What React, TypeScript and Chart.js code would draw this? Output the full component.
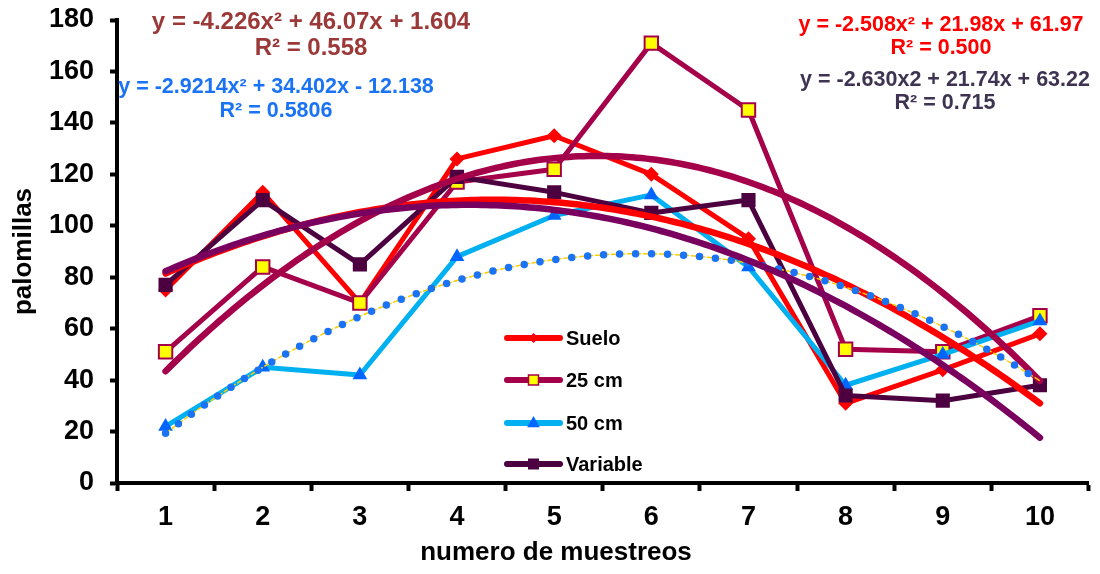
import React, { useEffect, useRef } from 'react';
import { Chart, registerables } from 'chart.js';

Chart.register(...registerables);

// ---- data ----
const categories = [1, 2, 3, 4, 5, 6, 7, 8, 9, 10];
const yTicks = [0, 20, 40, 60, 80, 100, 120, 140, 160, 180];
const suelo = [75, 113, 70, 126, 135, 120, 95, 31, 44, 58];
const cm25 = [51, 84, 70, 117, 122, 171, 145, 52, 51, 65];
const cm50 = [22, 45, 42, 88, 104, 112, 84, 38, 50, 63];
const variable = [77, 110, 85, 119, 113, 105, 110, 34, 32, 38];

// polynomial trendline coefficients [a, b, c] (a·x² + b·x + c) as printed on the chart
const sueloTrendCoef = [-2.508, 21.98, 61.97];
const cm25TrendCoef = [-4.226, 46.07, 1.604];
const cm50TrendCoef = [-2.9214, 34.402, -12.138];
const variableTrendCoef = [-2.63, 21.74, 63.22];

const sueloEquation = ['y = -2.508x² + 21.98x + 61.97', 'R² = 0.500'];
const cm25Equation = ['y = -4.226x² + 46.07x + 1.604', 'R² = 0.558'];
const cm50Equation = ['y = -2.9214x² + 34.402x - 12.138', 'R² = 0.5806'];
const variableEquation = ['y = -2.630x2 + 21.74x + 63.22', 'R² = 0.715'];

const seriesNames = ['Suelo', '25 cm', '50 cm', 'Variable'];

const FONT = '"Liberation Sans", Arial, Helvetica, sans-serif';

const C_SUELO = '#FF0000';
const C_25 = '#A5004A';
const C_50 = '#00B0F0';
const C_50_MARK = '#0066FF';
const C_VAR = '#4D0040';
const C_VAR_TREND = '#7A0060';

function toPoints(values: number[]) {
  return categories.map((c, i) => ({ x: c, y: values[i] }));
}

function trendPoints(coef: number[]) {
  const pts: { x: number; y: number }[] = [];
  const x0 = categories[0];
  const x1 = categories[categories.length - 1];
  const steps = 180;
  for (let i = 0; i <= steps; i++) {
    const x = x0 + ((x1 - x0) * i) / steps;
    pts.push({ x, y: coef[0] * x * x + coef[1] * x + coef[2] });
  }
  return pts;
}

const xTickValues = [categories[0] - 0.5, ...categories.flatMap((c) => [c, c + 0.5])];

function drawMarker(ctx: CanvasRenderingContext2D, kind: string, x: number, y: number, r: number, fill: string, stroke: string, bw: number) {
  ctx.save();
  ctx.beginPath();
  if (kind === 'diamond') {
    ctx.moveTo(x, y - r);
    ctx.lineTo(x + r, y);
    ctx.lineTo(x, y + r);
    ctx.lineTo(x - r, y);
    ctx.closePath();
  } else if (kind === 'triangle') {
    ctx.moveTo(x, y - r);
    ctx.lineTo(x + r * 0.9, y + r * 0.6);
    ctx.lineTo(x - r * 0.9, y + r * 0.6);
    ctx.closePath();
  } else {
    ctx.rect(x - r, y - r, 2 * r, 2 * r);
  }
  ctx.fillStyle = fill;
  ctx.fill();
  if (bw > 0) {
    ctx.lineWidth = bw;
    ctx.strokeStyle = stroke;
    ctx.stroke();
  }
  ctx.restore();
}

const overlayPlugin = {
  id: 'overlay',
  afterDatasetsDraw(chart: any) {
    const ctx: CanvasRenderingContext2D = chart.ctx;
    ctx.save();
    // trendline equations
    const eqs: [string[], string, number, number, number, number][] = [
      [cm25Equation, '#9B3838', 311, 22, 48, 24],
      [cm50Equation, '#1A73F5', 276, 87, 111, 21.5],
      [sueloEquation, '#FF0000', 941, 25, 48, 21.5],
      [variableEquation, '#3E3452', 945, 80, 103, 21.5],
    ];
    ctx.textAlign = 'center';
    ctx.textBaseline = 'middle';
    for (const [lines, color, cx, y1, y2, size] of eqs) {
      ctx.font = `bold ${size}px ${FONT}`;
      ctx.fillStyle = color;
      ctx.fillText(lines[0], cx, y1);
      ctx.fillText(lines[1], cx, y2);
    }

    // legend
    const legend = [
      { name: seriesNames[0], line: C_SUELO, kind: 'diamond', fill: C_SUELO, stroke: C_SUELO, r: 5, bw: 0 },
      { name: seriesNames[1], line: C_25, kind: 'rect', fill: '#FFFF00', stroke: C_25, r: 5, bw: 1.5 },
      { name: seriesNames[2], line: C_50, kind: 'triangle', fill: C_50_MARK, stroke: C_50_MARK, r: 7, bw: 0 },
      { name: seriesNames[3], line: C_VAR, kind: 'rect', fill: C_VAR, stroke: C_VAR, r: 5.5, bw: 0 },
    ];
    const rows = [338, 380, 423, 464];
    const lx0 = 507;
    const lx1 = 560;
    legend.forEach((item, i) => {
      const y = rows[i];
      ctx.beginPath();
      ctx.lineCap = 'round';
      ctx.lineWidth = 6;
      ctx.strokeStyle = item.line;
      ctx.moveTo(lx0, y);
      ctx.lineTo(lx1, y);
      ctx.stroke();
      drawMarker(ctx, item.kind, (lx0 + lx1) / 2, y, item.r, item.fill, item.stroke, item.bw);
      ctx.fillStyle = '#000';
      ctx.font = `bold 20px ${FONT}`;
      ctx.textAlign = 'left';
      ctx.textBaseline = 'middle';
      ctx.fillText(item.name, 566, y + 1);
    });

    // x axis title
    ctx.fillStyle = '#000';
    ctx.font = `bold 26px ${FONT}`;
    ctx.textAlign = 'center';
    ctx.textBaseline = 'middle';
    ctx.fillText('numero de muestreos', 556, 553);
    ctx.restore();
  },
};

export default function App() {
  const canvasRef = useRef<HTMLCanvasElement | null>(null);

  useEffect(() => {
    if (!canvasRef.current) return;
    Chart.defaults.font.family = FONT;

    const seriesBase = { showLine: true, tension: 0, borderWidth: 5, borderJoinStyle: 'round', borderCapStyle: 'round' };
    const trendBase = { showLine: true, tension: 0, pointRadius: 0, pointHoverRadius: 0, borderCapStyle: 'round' };

    const chart = new Chart(canvasRef.current, {
      type: 'scatter',
      data: {
        datasets: [
          // trendlines (drawn on top: lower order = drawn later)
          { ...trendBase, label: 'Polinómica (Variable)', data: trendPoints(variableTrendCoef), borderColor: C_VAR_TREND, borderWidth: 6.5, order: 0 },
          { ...trendBase, label: 'Polinómica (50 cm)', data: trendPoints(cm50TrendCoef), borderColor: '#1A73F5', borderWidth: 7.5, borderDash: [0, 16], order: 1 },
          { ...trendBase, label: 'Polinómica (50 cm) línea', data: trendPoints(cm50TrendCoef), borderColor: '#FFCC00', borderWidth: 1.5, borderDash: [5, 3], order: 2 },
          { ...trendBase, label: 'Polinómica (25 cm)', data: trendPoints(cm25TrendCoef), borderColor: C_25, borderWidth: 6.5, order: 3 },
          { ...trendBase, label: 'Polinómica (Suelo)', data: trendPoints(sueloTrendCoef), borderColor: C_SUELO, borderWidth: 6.5, order: 4 },
          // series
          { ...seriesBase, label: seriesNames[3], data: toPoints(variable), borderColor: C_VAR, backgroundColor: C_VAR, pointStyle: 'rect', pointRadius: 10, pointBorderWidth: 0, order: 5 },
          { ...seriesBase, label: seriesNames[2], data: toPoints(cm50), borderColor: C_50, backgroundColor: C_50_MARK, pointBorderColor: C_50_MARK, pointStyle: 'triangle', pointRadius: 8.5, pointBorderWidth: 0, order: 6 },
          { ...seriesBase, label: seriesNames[1], data: toPoints(cm25), borderColor: C_25, backgroundColor: '#FFFF00', pointBorderColor: C_25, pointStyle: 'rect', pointRadius: 9.5, pointBorderWidth: 2, order: 7 },
          { ...seriesBase, label: seriesNames[0], data: toPoints(suelo), borderColor: C_SUELO, backgroundColor: C_SUELO, pointStyle: 'rectRot', pointRadius: 7.5, pointBorderWidth: 0, order: 8 },
        ] as any,
      },
      options: {
        responsive: false,
        animation: false,
        devicePixelRatio: 1,
        layout: { padding: { top: 20, right: 9, left: 0, bottom: 0 } },
        plugins: {
          legend: { display: false },
          tooltip: { enabled: false },
        },
        scales: {
          x: {
            type: 'linear',
            min: xTickValues[0],
            max: xTickValues[xTickValues.length - 1],
            afterBuildTicks: (scale: any) => {
              scale.ticks = xTickValues.map((v) => ({ value: v }));
            },
            afterFit: (scale: any) => {
              scale.height = 91;
              scale.paddingLeft = 0;
              scale.paddingRight = 0;
            },
            ticks: {
              autoSkip: false,
              maxRotation: 0,
              minRotation: 0,
              color: '#000',
              padding: 10,
              font: { family: FONT, size: 27, weight: 'bold' },
              callback: (v: any) => (Number.isInteger(v) ? String(v) : ''),
            },
            grid: {
              drawOnChartArea: false,
              drawTicks: true,
              tickLength: 8,
              tickWidth: 4,
              tickColor: (c: any) => (c.tick && Number.isInteger(c.tick.value) ? 'rgba(0,0,0,0)' : '#000'),
            },
            border: { display: true, color: '#000', width: 4 },
          },
          y: {
            type: 'linear',
            min: yTicks[0],
            max: yTicks[yTicks.length - 1],
            afterBuildTicks: (scale: any) => {
              scale.ticks = yTicks.map((v) => ({ value: v }));
            },
            afterFit: (scale: any) => {
              scale.width = 117;
              scale.paddingTop = 0;
              scale.paddingBottom = 0;
            },
            ticks: {
              color: '#000',
              padding: 16,
              font: { family: FONT, size: 27, weight: 'bold' },
            },
            grid: {
              drawOnChartArea: false,
              drawTicks: true,
              tickLength: 7,
              tickWidth: 4,
              tickColor: '#000',
            },
            border: { display: true, color: '#000', width: 4 },
            title: {
              display: true,
              text: 'palomillas',
              color: '#000',
              font: { family: FONT, size: 26, weight: 'bold' },
              padding: { top: 8, bottom: 0 },
            },
          },
        },
      } as any,
      plugins: [overlayPlugin],
    });

    return () => {
      chart.destroy();
    };
  }, []);

  return (
    <div style={{ position: 'absolute', left: 0, top: 0, width: 1100, height: 574, background: '#fff' }}>
      <canvas ref={canvasRef} width={1100} height={574} />
    </div>
  );
}
